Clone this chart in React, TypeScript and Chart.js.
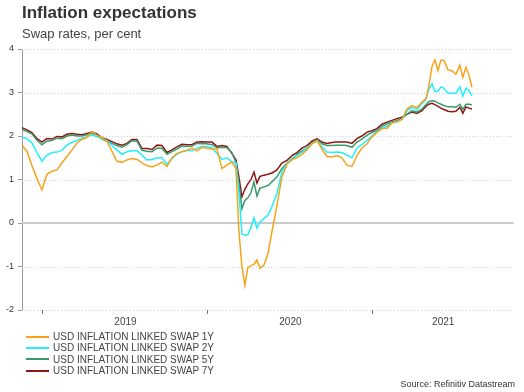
import React, { useEffect, useRef } from "react";
import { Chart, registerables } from "chart.js";
Chart.register(...registerables);

// Dates as decimal years
const dates = [
  2018.873, 2018.903, 2018.933, 2018.964, 2018.994, 2019.024, 2019.055, 2019.085, 2019.115, 2019.145,
  2019.176, 2019.206, 2019.236, 2019.267, 2019.297, 2019.327, 2019.358, 2019.388, 2019.418, 2019.448,
  2019.479, 2019.509, 2019.539, 2019.570, 2019.600, 2019.630, 2019.661, 2019.691, 2019.721, 2019.752,
  2019.782, 2019.812, 2019.842, 2019.873, 2019.903, 2019.933, 2019.964, 2019.994, 2020.024, 2020.055,
  2020.085, 2020.115, 2020.145, 2020.170, 2020.188, 2020.206, 2020.224, 2020.242, 2020.261, 2020.279,
  2020.297, 2020.315, 2020.339, 2020.364, 2020.388, 2020.418, 2020.448, 2020.479, 2020.509, 2020.539,
  2020.570, 2020.600, 2020.630, 2020.661, 2020.691, 2020.721, 2020.752, 2020.782, 2020.812, 2020.842,
  2020.873, 2020.903, 2020.933, 2020.964, 2020.994, 2021.024, 2021.055, 2021.085, 2021.115, 2021.145,
  2021.176, 2021.206, 2021.236, 2021.267, 2021.297, 2021.321, 2021.339, 2021.358, 2021.376, 2021.394,
  2021.412, 2021.430, 2021.455, 2021.479, 2021.503, 2021.527, 2021.545, 2021.564, 2021.582, 2021.600,
];

const swap1Y = [
  1.78, 1.65, 1.32, 1.02, 0.76, 1.12, 1.19, 1.22, 1.38, 1.53,
  1.68, 1.84, 1.92, 1.97, 2.10, 2.02, 1.96, 1.88, 1.65, 1.42,
  1.40, 1.45, 1.48, 1.46, 1.38, 1.32, 1.29, 1.33, 1.40, 1.30,
  1.50, 1.60, 1.64, 1.67, 1.72, 1.66, 1.74, 1.72, 1.70, 1.70,
  1.25, 1.33, 1.40, 1.25, -0.20, -1.00, -1.43, -1.02, -0.98, -0.95,
  -0.85, -1.04, -0.97, -0.70, -0.20, 0.40, 1.05, 1.35, 1.46, 1.50,
  1.58, 1.68, 1.82, 1.90, 1.70, 1.53, 1.52, 1.55, 1.50, 1.33,
  1.30, 1.55, 1.72, 1.82, 1.98, 2.08, 2.17, 2.18, 2.30, 2.33,
  2.38, 2.62, 2.70, 2.65, 2.78, 2.86, 3.15, 3.60, 3.75, 3.50,
  3.74, 3.74, 3.52, 3.50, 3.42, 3.63, 3.35, 3.58, 3.40, 3.12,
];

const swap2Y = [
  1.98, 1.94, 1.84, 1.62, 1.42, 1.56, 1.62, 1.63, 1.67, 1.79,
  1.85, 1.90, 1.95, 1.98, 2.03, 1.98, 1.94, 1.90, 1.78, 1.68,
  1.58, 1.64, 1.66, 1.66, 1.56, 1.45, 1.46, 1.50, 1.50, 1.35,
  1.48, 1.58, 1.64, 1.67, 1.66, 1.72, 1.76, 1.76, 1.73, 1.60,
  1.46, 1.50, 1.40, 1.38, 0.70, -0.25, -0.28, -0.27, -0.10, 0.12,
  -0.12, 0.02, 0.10, 0.18, 0.38, 0.68, 1.17, 1.37, 1.50, 1.55,
  1.63, 1.72, 1.82, 1.89, 1.75, 1.63, 1.62, 1.63, 1.62, 1.56,
  1.50, 1.72, 1.80, 1.90, 2.00, 2.10, 2.17, 2.23, 2.30, 2.32,
  2.38, 2.58, 2.66, 2.60, 2.75, 2.84, 3.08, 3.20, 3.02, 3.03,
  3.13, 3.10, 2.98, 2.98, 2.98, 3.13, 2.92, 3.10, 3.05, 2.92,
];

const swap5Y = [
  2.15, 2.10, 2.05, 1.90, 1.80, 1.88, 1.90, 1.95, 1.94, 2.00,
  2.02, 2.00, 2.00, 2.03, 2.06, 2.02, 1.93, 1.88, 1.83, 1.78,
  1.74, 1.80, 1.89, 1.88, 1.67, 1.65, 1.64, 1.72, 1.72, 1.58,
  1.64, 1.70, 1.77, 1.76, 1.77, 1.83, 1.82, 1.82, 1.80, 1.73,
  1.74, 1.73, 1.62, 1.38, 0.90, 0.33, 0.52, 0.58, 0.70, 0.94,
  0.62, 0.80, 0.83, 0.86, 0.95, 1.06, 1.25, 1.38, 1.45, 1.58,
  1.66, 1.72, 1.84, 1.92, 1.82, 1.78, 1.78, 1.79, 1.79, 1.78,
  1.74, 1.86, 1.93, 2.02, 2.08, 2.13, 2.22, 2.28, 2.32, 2.36,
  2.40, 2.50, 2.58, 2.55, 2.62, 2.72, 2.79, 2.81, 2.80, 2.76,
  2.73, 2.70, 2.67, 2.67, 2.66, 2.73, 2.61, 2.73, 2.73, 2.72,
];

const swap7Y = [
  2.19, 2.14, 2.08, 1.94, 1.86, 1.94, 1.93, 1.99, 1.98, 2.04,
  2.06, 2.04, 2.03, 2.06, 2.09, 2.05, 1.96, 1.92, 1.87, 1.82,
  1.79, 1.83, 1.92, 1.92, 1.71, 1.71, 1.69, 1.79, 1.78, 1.62,
  1.68, 1.75, 1.81, 1.80, 1.80, 1.86, 1.87, 1.86, 1.86, 1.76,
  1.78, 1.76, 1.60, 1.45, 1.05, 0.60, 0.78, 0.90, 1.00, 1.17,
  0.92, 1.07, 1.10, 1.12, 1.15, 1.22, 1.38, 1.44, 1.55, 1.62,
  1.72, 1.78, 1.88, 1.94, 1.86, 1.83, 1.85, 1.86, 1.86, 1.86,
  1.83, 1.94, 2.00, 2.09, 2.12, 2.17, 2.27, 2.32, 2.36, 2.40,
  2.43, 2.50, 2.55, 2.52, 2.58, 2.68, 2.73, 2.75, 2.72, 2.68,
  2.64, 2.61, 2.57, 2.56, 2.57, 2.66, 2.52, 2.67, 2.64, 2.62,
];

const seriesNames = [
  "USD INFLATION LINKED SWAP 1Y",
  "USD INFLATION LINKED SWAP 2Y",
  "USD INFLATION LINKED SWAP 5Y",
  "USD INFLATION LINKED SWAP 7Y",
];
const seriesValues = [swap1Y, swap2Y, swap5Y, swap7Y];
const seriesColors = ["#f7a21b", "#22eeff", "#3a9a6c", "#8e1616"];

const yearTicks = [2019, 2020, 2021];
const yearLabels = ["2019", "2020", "2021"];
const xMin = 2018.873;
const xMax = 2021.852;
const yMin = -2;
const yMax = 4;

const FONT = '"Liberation Sans", Arial, Helvetica, sans-serif';

const customPlugin = {
  id: "customGridAndLabels",
  beforeDatasetsDraw(chart: any) {
    const { ctx, chartArea, scales } = chart;
    const y = scales.y;
    ctx.save();
    y.ticks.forEach((t: any) => {
      const py = Math.round(y.getPixelForValue(t.value));
      ctx.beginPath();
      if (t.value === 0) {
        ctx.setLineDash([]);
        ctx.strokeStyle = "#cacaca";
        ctx.lineWidth = 2;
        ctx.moveTo(chartArea.left, py);
        ctx.lineTo(chartArea.right, py);
      } else {
        ctx.setLineDash([1, 2]);
        ctx.strokeStyle = "#cfcfcf";
        ctx.lineWidth = 1;
        ctx.moveTo(chartArea.left, py + 0.5);
        ctx.lineTo(chartArea.right, py + 0.5);
      }
      ctx.stroke();
    });
    ctx.restore();
  },
  afterDraw(chart: any) {
    const { ctx, chartArea, scales } = chart;
    const x = scales.x;
    ctx.save();
    ctx.font = `10px ${FONT}`;
    ctx.fillStyle = "#444";
    ctx.textAlign = "center";
    ctx.textBaseline = "middle";
    yearTicks.forEach((yr, i) => {
      const mid = (yr + Math.min(yr + 1, xMax)) / 2;
      ctx.fillText(yearLabels[i], x.getPixelForValue(mid), chartArea.bottom + 12);
    });
    ctx.restore();
  },
};

export default function App() {
  const ref = useRef<HTMLCanvasElement | null>(null);

  useEffect(() => {
    if (!ref.current) return;
    const chart = new Chart(ref.current, {
      type: "line",
      data: {
        datasets: seriesNames.map((name, i) => ({
          label: name,
          data: dates.map((d, j) => ({ x: d, y: seriesValues[i][j] })),
          borderColor: seriesColors[i],
          backgroundColor: seriesColors[i],
          borderWidth: 1.5,
          pointRadius: 0,
          tension: 0,
          fill: false,
        })),
      },
      options: {
        animation: false,
        responsive: false,
        layout: { padding: { top: 49, left: 0, right: 10.5, bottom: 62 } },
        plugins: {
          legend: { display: false },
          tooltip: { enabled: false },
          title: { display: false },
        },
        scales: {
          x: {
            type: "linear",
            min: xMin,
            max: xMax,
            afterBuildTicks: (s: any) => {
              s.ticks = yearTicks.map((v) => ({ value: v }));
            },
            ticks: { display: false },
            grid: {
              drawOnChartArea: false,
              drawTicks: true,
              tickLength: 4,
              tickColor: "#777",
              tickWidth: 1,
            },
            border: { display: false },
            afterFit: (s: any) => {
              s.height = 20;
            },
          },
          y: {
            type: "linear",
            min: yMin,
            max: yMax,
            ticks: {
              stepSize: 1,
              color: "#333",
              padding: 4,
              font: { family: FONT, size: 9 },
            },
            grid: {
              drawOnChartArea: false,
              drawTicks: true,
              tickLength: 4,
              tickColor: "#999",
            },
            border: { display: true, color: "#999", width: 1 },
            afterFit: (s: any) => {
              s.width = 22;
            },
          },
        },
      } as any,
      plugins: [customPlugin],
    });
    return () => chart.destroy();
  }, []);

  return (
    <div
      style={{
        position: "fixed",
        left: 0,
        top: 0,
        width: 524,
        height: 392,
        background: "#fff",
        fontFamily: FONT,
        overflow: "hidden",
      }}
    >
      <canvas ref={ref} width={524} height={392} style={{ position: "absolute", left: 0, top: 0 }} />
      <div
        style={{
          position: "absolute",
          left: 22,
          top: 2.6,
          fontSize: 17,
          lineHeight: "20px",
          fontWeight: "bold",
          color: "#333",
          whiteSpace: "nowrap",
        }}
      >
        Inflation expectations
      </div>
      <div
        style={{
          position: "absolute",
          left: 22,
          top: 26,
          fontSize: 13,
          lineHeight: "16px",
          color: "#444",
          whiteSpace: "nowrap",
        }}
      >
        Swap rates, per cent
      </div>
      <div style={{ position: "absolute", left: 26, top: 331 }}>
        {seriesNames.map((name, i) => (
          <div
            key={name}
            style={{ display: "flex", alignItems: "center", height: 11.4, whiteSpace: "nowrap" }}
          >
            <div style={{ width: 23, height: 2, background: seriesColors[i], marginRight: 4 }} />
            <span style={{ fontSize: 10, lineHeight: "11.4px", color: "#444" }}>{name}</span>
          </div>
        ))}
      </div>
      <div
        style={{
          position: "absolute",
          right: 9,
          top: 379,
          fontSize: 9,
          lineHeight: "10px",
          color: "#333",
          whiteSpace: "nowrap",
        }}
      >
        Source: Refinitiv Datastream
      </div>
    </div>
  );
}
